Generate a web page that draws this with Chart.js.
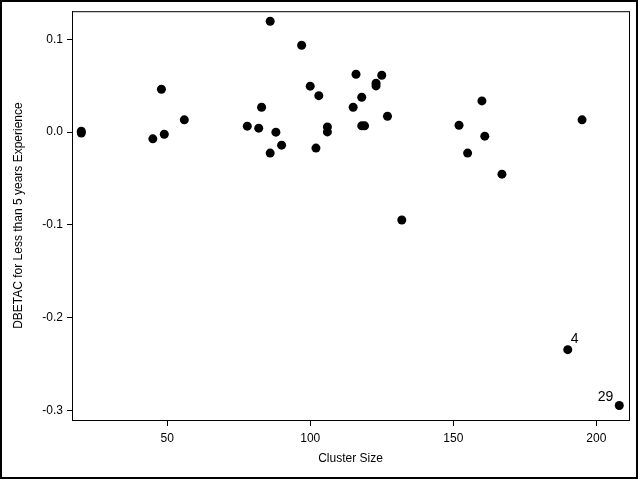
<!DOCTYPE html>
<html>
<head>
<meta charset="utf-8">
<script src="https://cdn.jsdelivr.net/npm/chart.js@4"></script>
<style>
  html, body { margin: 0; padding: 0; background: #fff; }
  #wrap { width: 640px; height: 480px; }
</style>
</head>
<body>
<div id="wrap"><canvas id="myChart" width="640" height="480"></canvas></div>
<script>
// cluster size and DBETAC values
var clusterSize = [20, 20, 45, 48, 49, 56, 78, 82, 83, 86, 86, 88, 90, 97, 100, 102, 103,
                   106, 106, 115, 116, 118, 118, 119, 123, 123, 125, 127, 132,
                   152, 155, 160, 161, 167, 190, 195, 208];
var dbetac = [0.001, -0.001, -0.0072, 0.0463, -0.0022, 0.0133, 0.0065, 0.0043, 0.0269, 0.1196, -0.0226, 0.0, -0.014, 0.0938, 0.0496, -0.0172, 0.0394,
              0.0057, 0.0003, 0.0269, 0.0625, 0.0377, 0.0068, 0.0068, 0.0528, 0.0499, 0.0614, 0.0172, -0.0948,
              0.0075, -0.0226, 0.0337, -0.0043, -0.0453, -0.2346, 0.0133, -0.2949];
var obsLabels = ['', '', '', '', '', '', '', '', '', '', '', '', '', '', '', '', '',
                 '', '', '', '', '', '', '', '', '', '', '', '',
                 '', '', '', '', '', '4', '', '29'];
var xTicks = [50, 100, 150, 200];
var yTicks = [-0.3, -0.2, -0.1, 0.0, 0.1];

var points = clusterSize.map(function (x, i) { return { x: x, y: dbetac[i] }; });

var fontFamily = '"Liberation Sans", Arial, sans-serif';
Chart.defaults.font.family = fontFamily;
Chart.defaults.font.size = 12;
Chart.defaults.color = '#000';

var framePlugin = {
    id: 'frame',
    afterDraw: function (chart) {
        var ctx = chart.ctx;
        var a = chart.chartArea;
        ctx.save();
        ctx.strokeStyle = '#000';
        ctx.lineWidth = 1;
        ctx.strokeRect(a.left + 0.5, a.top + 0.5, a.right - a.left, a.bottom - a.top);
        ctx.lineWidth = 2;
        ctx.strokeRect(1, 1, 636, 477);

        // observation labels
        var meta = chart.getDatasetMeta(0);
        ctx.font = '14px ' + fontFamily;
        ctx.fillStyle = '#000';
        ctx.textBaseline = 'alphabetic';
        meta.data.forEach(function (pt, i) {
            var lab = obsLabels[i];
            if (!lab) return;
            var w = ctx.measureText(lab).width;
            if (pt.x + 3 + w > a.right - 2) {
                ctx.textAlign = 'right';
                ctx.fillText(lab, pt.x - 6, pt.y - 5);
            } else {
                ctx.textAlign = 'left';
                ctx.fillText(lab, pt.x + 3, pt.y - 7);
            }
        });
        ctx.restore();
    }
};

var ctx = document.getElementById('myChart').getContext('2d');
window.myChart = new Chart(ctx, {
    type: 'scatter',
    data: {
        datasets: [{
            label: 'DBETAC',
            data: points,
            pointRadius: 4.5,
            pointHoverRadius: 4.5,
            pointBackgroundColor: '#000',
            pointBorderWidth: 0,
            borderColor: '#000'
        }]
    },
    options: {
        responsive: false,
        animation: false,
        layout: { padding: { left: 0, top: 11, right: 11, bottom: 0 } },
        plugins: {
            legend: { display: false },
            tooltip: { enabled: false }
        },
        scales: {
            x: {
                type: 'linear',
                position: 'bottom',
                min: 16.75,
                max: 211.4,
                afterBuildTicks: function (scale) {
                    scale.ticks = xTicks.map(function (v) { return { value: v }; });
                },
                afterFit: function (scale) { scale.height = 60; },
                ticks: {
                    padding: 5,
                    maxRotation: 0,
                    callback: function (v) { return String(v); }
                },
                grid: { drawOnChartArea: false, drawTicks: true, tickLength: 6, color: '#000' },
                border: { display: true, color: '#000' },
                title: { display: true, text: 'Cluster Size', padding: { top: 0, bottom: 14 } }
            },
            y: {
                type: 'linear',
                min: -0.3105,
                max: 0.1305,
                afterBuildTicks: function (scale) {
                    scale.ticks = yTicks.map(function (v) { return { value: v }; });
                },
                afterFit: function (scale) { scale.width = 72; },
                ticks: {
                    padding: 4,
                    callback: function (v) { return v.toFixed(1); }
                },
                grid: { drawOnChartArea: false, drawTicks: true, tickLength: 5, color: '#000' },
                border: { display: true, color: '#000' },
                title: { display: true, text: 'DBETAC for Less than 5 years Experience', padding: { top: 11, bottom: 0 } }
            }
        }
    },
    plugins: [framePlugin]
});
</script>
</body>
</html>
